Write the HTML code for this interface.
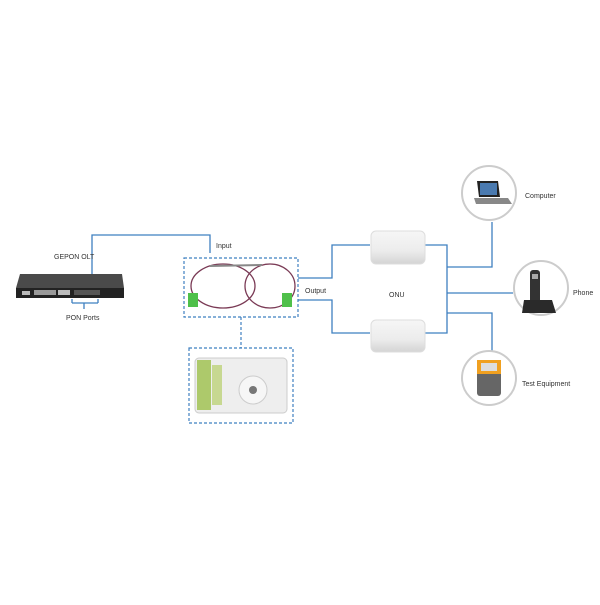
<!DOCTYPE html>
<html><head><style>
body{margin:0;background:#fff;width:600px;height:600px;overflow:hidden;font-family:"Liberation Sans",sans-serif}
</style></head><body>
<svg width="600" height="600" viewBox="0 0 600 600" xmlns="http://www.w3.org/2000/svg" font-family="Liberation Sans, sans-serif" font-size="7" fill="#333">
<defs>
<linearGradient id="onu" x1="0" y1="0" x2="0" y2="1"><stop offset="0" stop-color="#f6f6f6"/><stop offset="0.6" stop-color="#ececec"/><stop offset="1" stop-color="#d4d4d4"/></linearGradient>
</defs>
<g stroke="#3f80c0" stroke-width="1.3" fill="none">
<polyline points="92,275 92,235 210,235 210,253"/>
<polyline points="72,303 98,303"/><line x1="72" y1="299" x2="72" y2="303"/><line x1="98" y1="299" x2="98" y2="303"/><line x1="84" y1="303" x2="84" y2="309"/>
<polyline points="298,278 332,278 332,245 370,245"/>
<polyline points="298,300 332,300 332,333 370,333"/>
<polyline points="425,245 447,245 447,333 425,333"/>
<polyline points="447,267 492,267 492,222"/>
<line x1="447" y1="293" x2="513" y2="293"/>
<polyline points="447,313 492,313 492,351"/>
</g>
<g stroke="#3f80c0" stroke-width="1.2" fill="none" stroke-dasharray="3,2">
<rect x="184" y="258" width="114" height="59"/>
<line x1="241" y1="317" x2="241" y2="348"/>
<rect x="189" y="348" width="104" height="75"/>
</g>
<!-- OLT -->
<polygon points="20,274 122,274 124,288 16,288" fill="#4a4a4a"/>
<rect x="16" y="288" width="108" height="10" fill="#222"/>
<g fill="#bbb"><rect x="22" y="291" width="8" height="4"/><rect x="34" y="290" width="22" height="5" fill="#999"/><rect x="58" y="290" width="12" height="5"/></g>
<g fill="#555"><rect x="74" y="290" width="26" height="5"/></g>
<!-- splitter -->
<g fill="none" stroke-width="1.3">
<ellipse cx="223" cy="286" rx="32" ry="22" stroke="#7a3a55"/>
<ellipse cx="270" cy="286" rx="25" ry="22" stroke="#7a3a55"/>
<line x1="210" y1="266" x2="262" y2="265" stroke="#888" stroke-width="2"/>
</g>
<rect x="188" y="293" width="10" height="14" fill="#4fc04a"/>
<rect x="282" y="293" width="10" height="14" fill="#4fc04a"/>
<!-- splice box -->
<rect x="195" y="358" width="92" height="55" rx="4" fill="#eee" stroke="#ccc"/>
<rect x="197" y="360" width="14" height="50" fill="#9cbf4a" opacity="0.8"/>
<rect x="212" y="365" width="10" height="40" fill="#b6cf6a" opacity="0.7"/>
<circle cx="253" cy="390" r="14" fill="#f6f6f6" stroke="#ccc"/>
<circle cx="253" cy="390" r="4" fill="#777"/>
<!-- ONUs -->
<rect x="371" y="231" width="54" height="33" rx="5" fill="url(#onu)" stroke="#ddd"/>
<rect x="371" y="320" width="54" height="32" rx="5" fill="url(#onu)" stroke="#ddd"/>
<!-- circles -->
<g fill="#fff" stroke="#ccc" stroke-width="2">
<circle cx="489" cy="193" r="27"/><circle cx="541" cy="288" r="27"/><circle cx="489" cy="378" r="27"/>
</g>
<polygon points="477,181 498,181 500,197 479,197" fill="#222"/><rect x="480" y="183" width="17" height="12" fill="#4a7ab0"/>
<polygon points="474,198 508,198 512,204 476,204" fill="#888"/>
<rect x="530" y="270" width="10" height="36" rx="3" fill="#333"/><rect x="532" y="274" width="6" height="5" fill="#aaa"/>
<polygon points="524,300 552,300 556,313 522,313" fill="#2a2a2a"/>
<rect x="477" y="360" width="24" height="36" rx="3" fill="#666"/><rect x="477" y="360" width="24" height="14" fill="#f0a020"/><rect x="481" y="363" width="16" height="8" fill="#ddd"/>
<text x="54" y="259">GEPON OLT</text>
<text x="66" y="320">PON Ports</text>
<text x="216" y="248">Input</text>
<text x="305" y="293">Output</text>
<text x="389" y="297">ONU</text>
<text x="525" y="198">Computer</text>
<text x="573" y="295">Phone</text>
<text x="522" y="386">Test Equipment</text>
</svg>
</body></html>
